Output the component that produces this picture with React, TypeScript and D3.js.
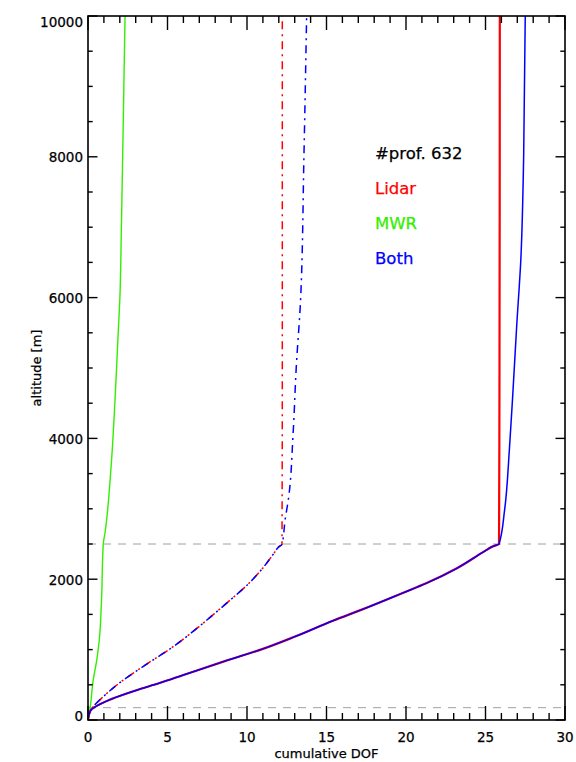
import React from "react";
import * as d3 from "d3";

type P = [number, number];

// cumulative DOF vs altitude
const lidarFullBelow: P[] = [
  [0, 0], [0.15, 130], [1.5, 300], [3, 420], [4.5, 525], [6, 639], [8.7, 843], [11, 1010],
  [12.9, 1174], [15.4, 1410], [17.3, 1575], [19.8, 1805], [21.3, 1945], [23.2, 2155],
  [24.9, 2391], [25.5, 2470], [25.85, 2500],
];
const lidarFull: P[] = [...lidarFullBelow, [25.88, 5000], [25.9, 10000]];
const bothFull: P[] = [
  ...lidarFullBelow,
  [26.2, 2980], [26.5, 3835], [26.72, 4640], [26.96, 5590], [27.22, 6530], [27.4, 8000], [27.5, 10000],
];
const lidarPartBelow: P[] = [
  [0, 0], [0.12, 120], [1, 340], [2, 530], [3, 690], [4, 840], [5, 985], [6, 1150], [7, 1330],
  [8, 1520], [9, 1715], [10, 1915], [11, 2160], [11.7, 2370], [12.0, 2460], [12.2, 2495],
];
const lidarPart: P[] = [...lidarPartBelow, [12.22, 5000], [12.22, 10000]];
const bothPart: P[] = [
  ...lidarPartBelow,
  [12.4, 2850], [12.6, 3130], [12.9, 4070], [13.1, 5020], [13.37, 5970], [13.58, 8000], [13.75, 10000],
];
const mwr: P[] = [
  [0, 0], [0.1, 120], [0.33, 570], [0.55, 850], [0.71, 1136], [0.85, 1700], [0.96, 2500],
  [1.07, 2660], [1.45, 3590], [1.7, 4545], [1.9, 5500], [2.0, 5966], [2.1, 7000], [2.18, 8000], [2.33, 10000],
];

const xMajor = [0, 5, 10, 15, 20, 25, 30];
const yMajor = [0, 2000, 4000, 6000, 8000, 10000];
const refLevels = [175, 2500];
const legendItems = [
  { label: "#prof. 632", color: "#000000" },
  { label: "Lidar", color: "#ff0000" },
  { label: "MWR", color: "#33ee00" },
  { label: "Both", color: "#0000ff" },
];

const W = 576, H = 762;
const L = 88, R = 565, T = 16, B = 720;
const FONT = "'DejaVu Sans', sans-serif";

export default function App() {
  const x = d3.scaleLinear().domain([0, 30]).range([L, R]);
  const y = d3.scaleLinear().domain([0, 10000]).range([B, T]);
  const line = d3.line<P>().x((d) => x(d[0])).y((d) => y(d[1])).curve(d3.curveMonotoneY);
  const xMinor = d3.range(0, 31, 1).filter((v) => v % 5 !== 0);
  const yMinor = d3.range(0, 10001, 500).filter((v) => v % 2000 !== 0);
  const xTickMaj = 14, xTickMin = 7, yTickMaj = 9.5, yTickMin = 4.7;
  const dd = "8,5,2,5";
  const txt = { fontFamily: FONT, stroke: "#000", strokeWidth: 0.25 } as const;

  return (
    <svg width={W} height={H} style={{ position: "absolute", left: 0, top: 0, background: "#fff" }}>
      <defs>
        <clipPath id="plot">
          <rect x={L} y={T} width={R - L} height={B - T} />
        </clipPath>
      </defs>
      <rect x={0} y={0} width={W} height={H} fill="#fff" />
      {refLevels.map((v) => (
        <line key={v} x1={L} x2={R} y1={y(v)} y2={y(v)} stroke="#a0a0a0" strokeWidth={1} strokeDasharray="8,7" />
      ))}
      <g clipPath="url(#plot)" fill="none">
        <path d={line(mwr) || ""} stroke="#33ee00" strokeWidth={1.4} />
        <path d={line(lidarPart) || ""} stroke="#ff0000" strokeWidth={1.5} strokeDasharray={dd} />
        <path d={line(bothPart) || ""} stroke="#0000ff" strokeWidth={1.5} strokeDasharray={dd} strokeDashoffset={3} />
        <path d={line(lidarFull) || ""} stroke="#ff0000" strokeWidth={2.2} />
        <path d={line(bothFull) || ""} stroke="#0000ff" strokeWidth={1.5} />
      </g>
      {/* frame */}
      <rect x={L} y={T} width={R - L} height={B - T} fill="none" stroke="#000" strokeWidth={1.6} />
      {/* x ticks */}
      {xMajor.map((v) => (
        <g key={"xm" + v}>
          <line x1={x(v)} x2={x(v)} y1={B} y2={B - xTickMaj} stroke="#000" strokeWidth={1.4} />
          <line x1={x(v)} x2={x(v)} y1={T} y2={T + xTickMaj} stroke="#000" strokeWidth={1.4} />
          <text x={x(v)} y={742} textAnchor="middle" fontSize={13.5} {...txt}>{v}</text>
        </g>
      ))}
      {xMinor.map((v) => (
        <g key={"xn" + v}>
          <line x1={x(v)} x2={x(v)} y1={B} y2={B - xTickMin} stroke="#000" strokeWidth={1.4} />
          <line x1={x(v)} x2={x(v)} y1={T} y2={T + xTickMin} stroke="#000" strokeWidth={1.4} />
        </g>
      ))}
      {/* y ticks */}
      {yMajor.map((v) => {
        const off = v === 0 ? 0.5 : v === 10000 ? 10.5 : 5.5;
        return (
          <g key={"ym" + v}>
            <line x1={L} x2={L + yTickMaj} y1={y(v)} y2={y(v)} stroke="#000" strokeWidth={1.4} />
            <line x1={R} x2={R - yTickMaj} y1={y(v)} y2={y(v)} stroke="#000" strokeWidth={1.4} />
            <text x={83} y={y(v) + off} textAnchor="end" fontSize={13.5} {...txt}>{v}</text>
          </g>
        );
      })}
      {yMinor.map((v) => (
        <g key={"yn" + v}>
          <line x1={L} x2={L + yTickMin} y1={y(v)} y2={y(v)} stroke="#000" strokeWidth={1.4} />
          <line x1={R} x2={R - yTickMin} y1={y(v)} y2={y(v)} stroke="#000" strokeWidth={1.4} />
        </g>
      ))}
      <text x={(L + R) / 2} y={758} textAnchor="middle" fontSize={13} {...txt}>cumulative DOF</text>
      <text transform={`translate(41,${(T + B) / 2}) rotate(-90)`} textAnchor="middle" fontSize={13} {...txt}>altitude [m]</text>
      {legendItems.map((it, i) => (
        <text key={it.label} x={375} y={158.5 + i * 35} fill={it.color} fontFamily={FONT} fontSize={16.5} stroke={it.color} strokeWidth={0.25}>{it.label}</text>
      ))}
    </svg>
  );
}
